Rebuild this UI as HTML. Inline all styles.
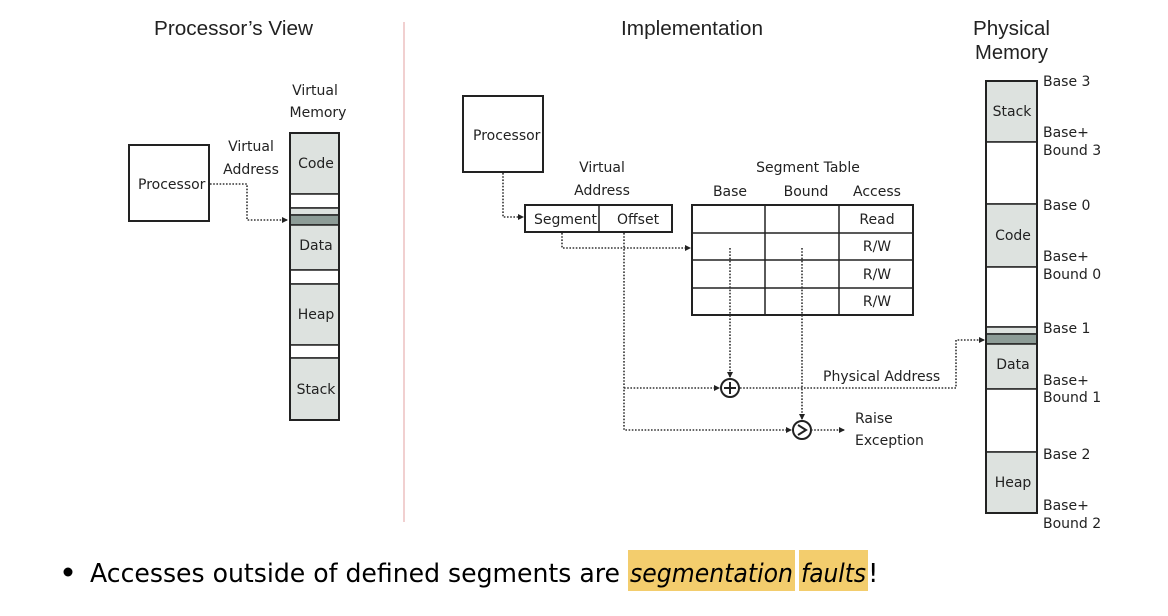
<!DOCTYPE html>
<html><head><meta charset="utf-8"><style>
html,body{margin:0;padding:0;background:#fff;}
svg{display:block;}
text{font-family:"DejaVu Sans","Liberation Sans",sans-serif;fill:#222;}
.t{font-family:"Liberation Sans",sans-serif;font-size:20px;fill:#222;}
.s{font-size:14px;}
.box{fill:#fff;stroke:#222;stroke-width:2;}
.g{fill:#dde2df;stroke:#222;stroke-width:1.5;}
.w{fill:#fff;stroke:#222;stroke-width:1.5;}
.d{fill:#8d9c97;stroke:#222;stroke-width:1.5;}
.dot{fill:none;stroke:#333;stroke-width:1.6;stroke-dasharray:1.6 1.6;}
</style></head><body>
<svg width="1168" height="616" viewBox="0 0 1168 616" xmlns="http://www.w3.org/2000/svg">
<defs><marker id="a" markerWidth="6" markerHeight="6" refX="5" refY="3" orient="auto" markerUnits="userSpaceOnUse"><path d="M0,0 L6,3 L0,6 Z" fill="#222"/></marker></defs>

<text class="t" x="154" y="35" textLength="159" lengthAdjust="spacingAndGlyphs">Processor’s View</text>
<text class="t" x="621" y="35" textLength="142" lengthAdjust="spacingAndGlyphs">Implementation</text>
<text class="t" x="973" y="35" textLength="77" lengthAdjust="spacingAndGlyphs">Physical</text>
<text class="t" x="975" y="59" textLength="73" lengthAdjust="spacingAndGlyphs">Memory</text>
<line x1="404" y1="22" x2="404" y2="522" stroke="#e3a0a0" stroke-width="1"/>

<!-- Left -->
<rect class="box" x="129" y="145" width="80" height="76"/>
<text class="s" x="138" y="189">Processor</text>
<text class="s" x="251" y="151" text-anchor="middle">Virtual</text>
<text class="s" x="251" y="174" text-anchor="middle">Address</text>
<text class="s" x="315" y="95" text-anchor="middle">Virtual</text>
<text class="s" x="318" y="117" text-anchor="middle">Memory</text>
<path class="dot" d="M210,184 H247 V220 H287" marker-end="url(#a)"/>
<rect class="g" x="290" y="133" width="49" height="61"/>
<rect class="w" x="290" y="194" width="49" height="14"/>
<rect class="g" x="290" y="208" width="49" height="7"/>
<rect class="d" x="290" y="215" width="49" height="10"/>
<rect class="g" x="290" y="225" width="49" height="45"/>
<rect class="w" x="290" y="270" width="49" height="14"/>
<rect class="g" x="290" y="284" width="49" height="61"/>
<rect class="w" x="290" y="345" width="49" height="13"/>
<rect class="g" x="290" y="358" width="49" height="62"/>
<rect x="290" y="133" width="49" height="287" fill="none" stroke="#222" stroke-width="2"/>
<text class="s" x="316" y="168" text-anchor="middle">Code</text>
<text class="s" x="316" y="250" text-anchor="middle">Data</text>
<text class="s" x="316" y="319" text-anchor="middle">Heap</text>
<text class="s" x="316" y="394" text-anchor="middle">Stack</text>

<!-- Middle -->
<rect class="box" x="463" y="96" width="80" height="76"/>
<text class="s" x="473" y="140">Processor</text>
<path class="dot" d="M503,173 V217 H523" marker-end="url(#a)"/>
<text class="s" x="602" y="172" text-anchor="middle">Virtual</text>
<text class="s" x="602" y="195" text-anchor="middle">Address</text>
<rect class="box" x="525" y="205" width="147" height="27"/>
<line x1="599" y1="205" x2="599" y2="232" stroke="#222" stroke-width="1.5"/>
<text class="s" x="534" y="224">Segment</text>
<text class="s" x="617" y="224">Offset</text>

<text class="s" x="808" y="172" text-anchor="middle">Segment Table</text>
<text class="s" x="730" y="196" text-anchor="middle">Base</text>
<text class="s" x="806" y="196" text-anchor="middle">Bound</text>
<text class="s" x="877" y="196" text-anchor="middle">Access</text>
<rect class="box" x="692" y="205" width="221" height="110"/>
<g stroke="#222" stroke-width="1.5">
<line x1="765" y1="205" x2="765" y2="315"/><line x1="839" y1="205" x2="839" y2="315"/>
<line x1="692" y1="233" x2="913" y2="233"/><line x1="692" y1="260" x2="913" y2="260"/><line x1="692" y1="288" x2="913" y2="288"/>
</g>
<text class="s" x="877" y="224" text-anchor="middle">Read</text>
<text class="s" x="877" y="251" text-anchor="middle">R/W</text>
<text class="s" x="877" y="279" text-anchor="middle">R/W</text>
<text class="s" x="877" y="306" text-anchor="middle">R/W</text>

<path class="dot" d="M562,233 V248 H690" marker-end="url(#a)"/>
<path class="dot" d="M624,233 V430 H791" marker-end="url(#a)"/>
<path class="dot" d="M624,388 H719" marker-end="url(#a)"/>
<path class="dot" d="M730,248 V377" marker-end="url(#a)"/>
<path class="dot" d="M802,248 V419" marker-end="url(#a)"/>
<circle cx="730" cy="388" r="9" fill="#fff" stroke="#222" stroke-width="2"/>
<path d="M724,388 H736 M730,382 V394" stroke="#222" stroke-width="2"/>
<circle cx="802" cy="430" r="9" fill="#fff" stroke="#222" stroke-width="2"/>
<path d="M798,425 L806,430 L798,435" fill="none" stroke="#222" stroke-width="2"/>
<path class="dot" d="M811,430 H844" marker-end="url(#a)"/>
<text class="s" x="855" y="423">Raise</text>
<text class="s" x="855" y="445">Exception</text>
<path class="dot" d="M740,388 H956 V340 H984" marker-end="url(#a)"/>
<text class="s" x="823" y="381">Physical Address</text>

<!-- Physical memory -->
<rect class="g" x="986" y="81" width="51" height="61"/>
<rect class="w" x="986" y="142" width="51" height="62"/>
<rect class="g" x="986" y="204" width="51" height="63"/>
<rect class="w" x="986" y="267" width="51" height="60"/>
<rect class="g" x="986" y="327" width="51" height="7"/>
<rect class="d" x="986" y="334" width="51" height="10"/>
<rect class="g" x="986" y="344" width="51" height="45"/>
<rect class="w" x="986" y="389" width="51" height="63"/>
<rect class="g" x="986" y="452" width="51" height="61"/>
<rect x="986" y="81" width="51" height="432" fill="none" stroke="#222" stroke-width="2"/>
<text class="s" x="1012" y="116" text-anchor="middle">Stack</text>
<text class="s" x="1013" y="240" text-anchor="middle">Code</text>
<text class="s" x="1013" y="369" text-anchor="middle">Data</text>
<text class="s" x="1013" y="487" text-anchor="middle">Heap</text>
<g class="s">
<text class="s" x="1043" y="86">Base 3</text>
<text class="s" x="1043" y="137">Base+</text><text class="s" x="1043" y="155">Bound 3</text>
<text class="s" x="1043" y="210">Base 0</text>
<text class="s" x="1043" y="261">Base+</text><text class="s" x="1043" y="279">Bound 0</text>
<text class="s" x="1043" y="333">Base 1</text>
<text class="s" x="1043" y="385">Base+</text><text class="s" x="1043" y="402">Bound 1</text>
<text class="s" x="1043" y="459">Base 2</text>
<text class="s" x="1043" y="510">Base+</text><text class="s" x="1043" y="528">Bound 2</text>
</g>

<!-- Bullet -->
<circle cx="68" cy="572" r="4.5" fill="#000"/>
<rect x="628" y="550" width="167" height="41" fill="#f3cd6d"/>
<rect x="799" y="550" width="69" height="41" fill="#f3cd6d"/>
<text x="90" y="582" style="font-size:26px;fill:#000" textLength="530" lengthAdjust="spacingAndGlyphs">Accesses outside of defined segments are</text>
<text x="630" y="582" style="font-size:26px;font-style:italic;fill:#000" textLength="163" lengthAdjust="spacingAndGlyphs">segmentation</text>
<text x="801" y="582" style="font-size:26px;font-style:italic;fill:#000" textLength="65" lengthAdjust="spacingAndGlyphs">faults</text>
<text x="868" y="582" style="font-size:26px;fill:#000">!</text>
</svg>
</body></html>
